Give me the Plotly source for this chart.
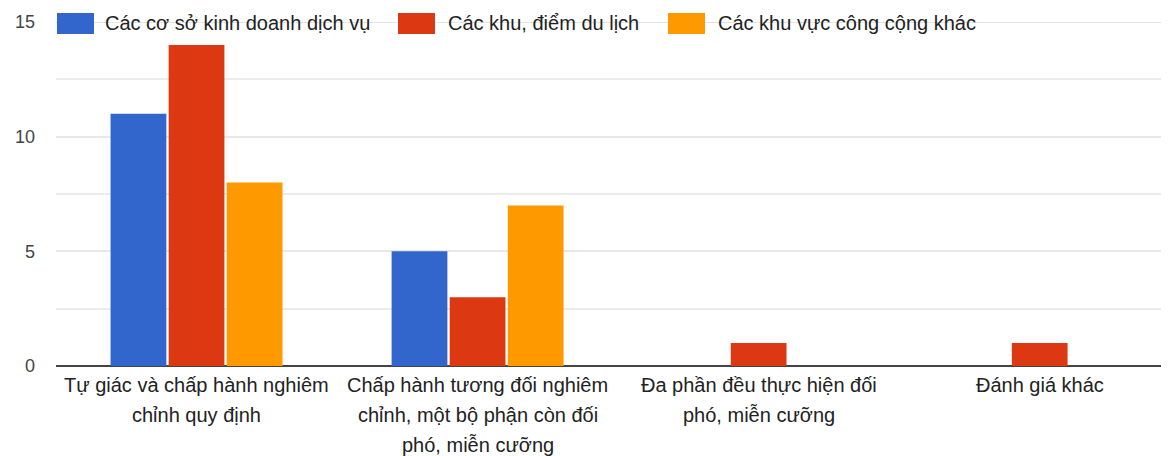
import plotly.graph_objects as go

categories = [
    "Tự giác và chấp hành nghiêm<br>chỉnh quy định",
    "Chấp hành tương đối nghiêm<br>chỉnh, một bộ phận còn đối<br>phó, miễn cưỡng",
    "Đa phần đều thực hiện đối<br>phó, miễn cưỡng",
    "Đánh giá khác",
]
series_names = ["Các cơ sở kinh doanh dịch vụ", "Các khu, điểm du lịch", "Các khu vực công cộng khác"]
values_co_so = [11, 5, 0, 0]
values_du_lich = [14, 3, 1, 1]
values_cong_cong = [8, 7, 0, 0]
colors = ["#3366cc", "#dc3912", "#ff9900"]
y_ticks = [0, 5, 10, 15]
y_max = 15

# page body has an 8px margin; the figure is sized so it fills the window exactly
OFF = 8
W, H = 1169 - OFF, 456 - OFF
L, R, T = 56 - OFF, 0, 22 - OFF
plot_h = 344
B = H - T - plot_h
plot_w = W - L - R

fig = go.Figure()
for name, vals, col in zip(series_names, [values_co_so, values_du_lich, values_cong_cong], colors):
    fig.add_trace(go.Bar(
        x=list(range(len(categories))), y=vals, name=name,
        marker=dict(color=col, line=dict(width=0)), showlegend=False,
    ))

# top gridline (runs behind the legend, as in the original)
fig.add_shape(type="line", xref="paper", yref="y", x0=0, x1=1, y0=y_max, y1=y_max,
              line=dict(color="#e4e4e4", width=2), layer="below")

# manual legend with large swatches (screen pixel positions)
legend_swatch_x = [57, 398, 668]
legend_text_x = [103, 446, 716]
def px_x(p):
    return (p - OFF - L) / plot_w
def px_y(p):
    return (H - B - (p - OFF)) / plot_h
for name, col, sx, tx in zip(series_names, colors, legend_swatch_x, legend_text_x):
    fig.add_shape(type="rect", xref="paper", yref="paper",
                  x0=px_x(sx), x1=px_x(sx + 37), y0=px_y(34), y1=px_y(13),
                  fillcolor=col, line=dict(width=0), layer="above")
    fig.add_annotation(xref="paper", yref="paper", x=px_x(tx), y=px_y(23),
                       text=name, showarrow=False, xanchor="left", yanchor="middle",
                       font=dict(size=20, color="#222222"))

# category labels, one annotation per line for the original's 30px line spacing
for i, cat in enumerate(categories):
    for j, line in enumerate(cat.split("<br>")):
        fig.add_annotation(xref="x", yref="paper", x=i, y=0, yanchor="middle",
                           yshift=-(19 + 30 * j), text=line, showarrow=False,
                           font=dict(size=20, color="#222222"))

fig.update_layout(
    width=W, height=H,
    margin=dict(l=L, r=R, t=T, b=B, autoexpand=False),
    paper_bgcolor="white", plot_bgcolor="white",
    barmode="group", bargap=0.38, bargroupgap=0.04,
    font=dict(family="Liberation Sans, Arial, sans-serif", size=20, color="#222222"),
    showlegend=False,
    xaxis=dict(showgrid=False, ticks="", showline=False, range=[-0.5, 3.46],
               tickmode="array", tickvals=list(range(len(categories))),
               showticklabels=False),
    yaxis=dict(range=[0, y_max], tickvals=y_ticks, showgrid=True, gridcolor="#e8e8e8", gridwidth=2,
               minor=dict(dtick=2.5, showgrid=True, gridcolor="#ebebeb", gridwidth=2),
               zeroline=True, zerolinecolor="#444444", zerolinewidth=2,
               tickfont=dict(size=18, color="#444444"), ticks="", ticklabelstandoff=20),
)

fig.write_html("out.html")
